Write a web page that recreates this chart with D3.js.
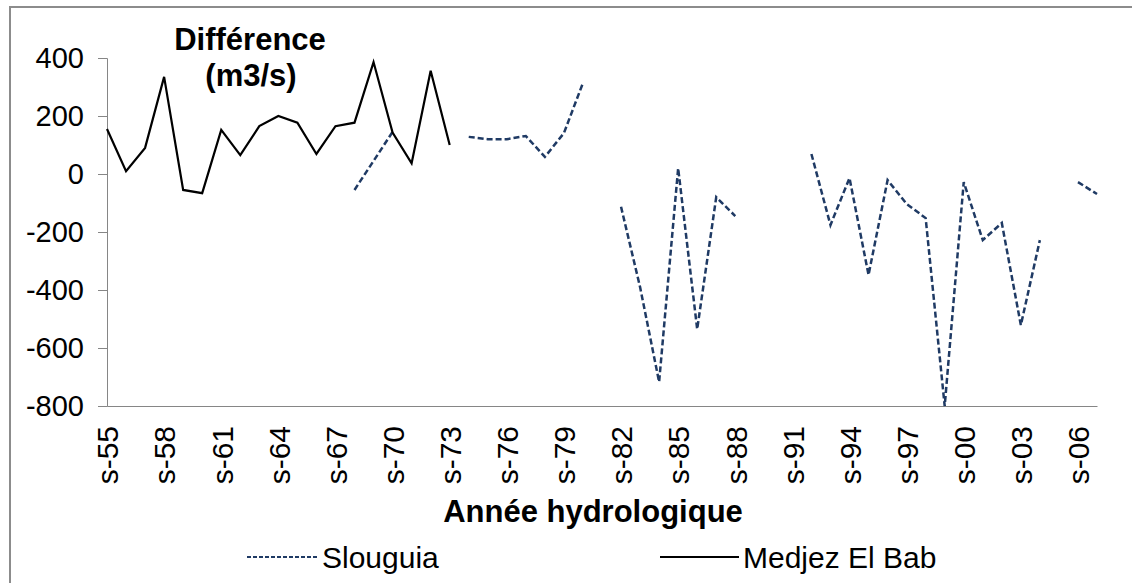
<!DOCTYPE html>
<html>
<head>
<meta charset="utf-8">
<script src="https://cdn.jsdelivr.net/npm/d3@7"></script>
<style>
    body { margin: 0; background: #fff; }
    text { font-family: "Liberation Sans", Arial, sans-serif; fill: #000; }
</style>
</head>
<body>
<svg id="chart" width="1132" height="583"></svg>
<script>
// years on the category axis
var categories = ["s-55", "s-56", "s-57", "s-58", "s-59", "s-60", "s-61", "s-62", "s-63", "s-64",
    "s-65", "s-66", "s-67", "s-68", "s-69", "s-70", "s-71", "s-72", "s-73", "s-74",
    "s-75", "s-76", "s-77", "s-78", "s-79", "s-80", "s-81", "s-82", "s-83", "s-84",
    "s-85", "s-86", "s-87", "s-88", "s-89", "s-90", "s-91", "s-92", "s-93", "s-94",
    "s-95", "s-96", "s-97", "s-98", "s-99", "s-00", "s-01", "s-02", "s-03", "s-04",
    "s-05", "s-06", "s-07"];

// difference in m3/s, null = no data
var slouguia = [null, null, null, null, null, null, null, null, null, null,
    null, null, null, -55, 45, 145, null, null, null, 128,
    120, 120, 131, 59, 141, 314, null, -113, -390, -717,
    20, -535, -80, -145, null, null, null, 69, -176, -14,
    -348, -21, -103, -152, -800, -28, -228, -169, -521, -228,
    null, -28, -69];

var medjez = [155, 10, 90, 335, -55, -66, 152, 65, 165, 200,
    177, 69, 165, 177, 386, 143, 37, 356, 100, null,
    null, null, null, null, null, null, null, null, null, null,
    null, null, null, null, null, null, null, null, null, null,
    null, null, null, null, null, null, null, null, null, null,
    null, null, null];

var yTicks = [-800, -600, -400, -200, 0, 200, 400];
var xLabels = categories.filter(function (d, i) { return i % 3 === 0; });

var svg = d3.select("#chart"),
    axisColor = "#868686",
    navy = "#1F3A64";

// chart frame (right and bottom edges fall outside the picture)
svg.append("rect")
    .attr("x", 10).attr("y", 7)
    .attr("width", 1140).attr("height", 600)
    .attr("fill", "none")
    .attr("stroke", "#8c8c8c")
    .attr("stroke-width", 2);

var x = d3.scalePoint().domain(categories).range([107, 1097]),
    y = d3.scaleLinear().domain([-800, 400]).range([406, 58]);

// y axis
var yAxis = svg.append("g")
    .attr("transform", "translate(107,0)")
    .call(d3.axisLeft(y).tickValues(yTicks).tickSize(9).tickPadding(14).tickFormat(function (d) { return String(d); }));
yAxis.select(".domain").attr("stroke", axisColor);
yAxis.selectAll(".tick line").attr("stroke", axisColor);
yAxis.selectAll(".tick text")
    .style("font-size", "29px")
    .attr("fill", "#000");

// x axis
var xAxis = svg.append("g")
    .attr("transform", "translate(0,406)")
    .call(d3.axisBottom(x).tickValues(xLabels).tickSize(0).tickSizeOuter(0).tickFormat(function (d) { return d; }));
xAxis.select(".domain").attr("stroke", axisColor);
xAxis.selectAll(".tick text")
    .style("font-size", "30px")
    .attr("fill", "#000")
    .attr("text-anchor", "end")
    .attr("transform", "rotate(-90)")
    .attr("x", -20)
    .attr("y", 0)
    .attr("dy", "0.36em");

// series
function seriesLine(values) {
    return d3.line()
        .defined(function (d) { return d !== null; })
        .x(function (d, i) { return x(categories[i]); })
        .y(function (d) { return y(d); })(values);
}

svg.append("path")
    .attr("d", seriesLine(slouguia))
    .attr("fill", "none")
    .attr("stroke", navy)
    .attr("stroke-width", 2.5)
    .attr("stroke-dasharray", "6,3");

svg.append("path")
    .attr("d", seriesLine(medjez))
    .attr("fill", "none")
    .attr("stroke", "#000")
    .attr("stroke-width", 2.2);

// titles
svg.append("text")
    .attr("x", 250).attr("y", 50)
    .attr("text-anchor", "middle")
    .style("font-size", "31px").style("font-weight", "bold")
    .text("Différence");
svg.append("text")
    .attr("x", 251).attr("y", 86)
    .attr("text-anchor", "middle")
    .style("font-size", "31px").style("font-weight", "bold")
    .text("(m3/s)");

svg.append("text")
    .attr("x", 593).attr("y", 522)
    .attr("text-anchor", "middle")
    .style("font-size", "31px").style("font-weight", "bold")
    .text("Année hydrologique");

// legend
var legend = [
    {name: "Slouguia", x: 247, w: 71, color: navy, dash: "4,2"},
    {name: "Medjez El Bab", x: 660, w: 79, color: "#000", dash: null}
];
var item = svg.selectAll(".legend")
    .data(legend)
    .enter()
    .append("g")
    .attr("class", "legend")
    .attr("transform", function (d) { return "translate(" + d.x + ",557)"; });
item.append("line")
    .attr("x1", 0).attr("x2", function (d) { return d.w; })
    .attr("stroke", function (d) { return d.color; })
    .attr("stroke-width", 2.2)
    .attr("stroke-dasharray", function (d) { return d.dash; });
item.append("text")
    .attr("x", function (d) { return d.w + 4; }).attr("y", 11)
    .style("font-size", "30px")
    .text(function (d) { return d.name; });
</script>
</body>
</html>
